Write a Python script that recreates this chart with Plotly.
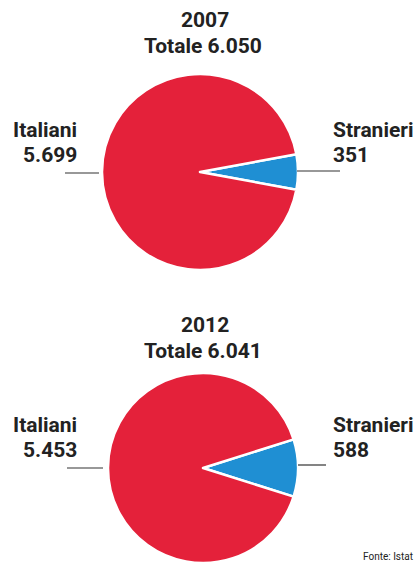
import plotly.graph_objects as go

W, H = 417, 563
years = ["2007", "2012"]
totali = ["6.050", "6.041"]
categorie = ["Stranieri", "Italiani"]
stranieri = [351, 588]
italiani = [5699, 5453]
label_str = ["351", "588"]
label_ita = ["5.699", "5.453"]

RED = "#E4213A"
BLUE = "#1F8FD3"
TXT = "#222222"
FONT = "Liberation Sans Narrow, Roboto, Arial, sans-serif"

def px(x):
    return x / W

def py(y):
    return 1 - y / H

# pie boxes in pixels: (x0, x1, y0_top, y1_bottom)
boxes = [(102, 298, 74, 270), (108, 298, 373, 563)]

fig = go.Figure()
for i in range(2):
    vals = [stranieri[i], italiani[i]]
    frac = stranieri[i] / sum(vals)
    x0, x1, yt, yb = boxes[i]
    fig.add_trace(go.Pie(
        labels=categorie, values=vals, sort=False, direction="clockwise",
        rotation=90 - frac * 180,
        marker=dict(colors=[BLUE, RED], line=dict(color="white", width=2.5)),
        textinfo="none", hoverinfo="label+value", showlegend=False,
        domain=dict(x=[px(x0), px(x1)], y=[max(0, py(yb)), py(yt)]),
    ))

annotations = []
shapes = []
title_y = [(20, 46), (325, 351)]
lab_y = [(130, 155, 173, 171), (425, 450, 468, 465)]
line_x = [((65, 99), (297, 340)), ((67, 103), (298, 326))]
for i in range(2):
    ty1, ty2 = title_y[i]
    annotations.append(dict(x=px(205), y=py(ty1), text="<b>" + years[i] + "</b>",
                            showarrow=False, xanchor="center", yanchor="middle",
                            font=dict(size=21, color=TXT, family=FONT)))
    annotations.append(dict(x=px(203), y=py(ty2), text="<b>Totale " + totali[i] + "</b>",
                            showarrow=False, xanchor="center", yanchor="middle",
                            font=dict(size=21, color=TXT, family=FONT)))
    l1, l2, ly_left, ly_right = lab_y[i]
    annotations.append(dict(x=px(79), y=py(l1), text="<b>Italiani</b>", showarrow=False,
                            xanchor="right", yanchor="middle",
                            font=dict(size=21, color=TXT, family=FONT)))
    annotations.append(dict(x=px(79), y=py(l2), text="<b>" + label_ita[i] + "</b>", showarrow=False,
                            xanchor="right", yanchor="middle",
                            font=dict(size=21, color=TXT, family=FONT)))
    annotations.append(dict(x=px(331), y=py(l1), text="<b>Stranieri</b>", showarrow=False,
                            xanchor="left", yanchor="middle",
                            font=dict(size=21, color=TXT, family=FONT)))
    annotations.append(dict(x=px(331), y=py(l2), text="<b>" + label_str[i] + "</b>", showarrow=False,
                            xanchor="left", yanchor="middle",
                            font=dict(size=21, color=TXT, family=FONT)))
    (a0, a1), (b0, b1) = line_x[i]
    shapes.append(dict(type="line", xref="paper", yref="paper", x0=px(a0), x1=px(a1),
                       y0=py(ly_left), y1=py(ly_left), line=dict(color="#333", width=1.2)))
    shapes.append(dict(type="line", xref="paper", yref="paper", x0=px(b0), x1=px(b1),
                       y0=py(ly_right), y1=py(ly_right), line=dict(color="#333", width=1.2)))

annotations.append(dict(x=px(415), y=py(556), text="Fonte: Istat", showarrow=False,
                        xanchor="right", yanchor="middle",
                        font=dict(size=10, color=TXT, family="Roboto, Arial, sans-serif")))

fig.update_layout(width=W, height=H, margin=dict(l=0, r=0, t=0, b=0),
                  paper_bgcolor="white", plot_bgcolor="white",
                  annotations=annotations, shapes=shapes)
fig.write_html("out.html")
